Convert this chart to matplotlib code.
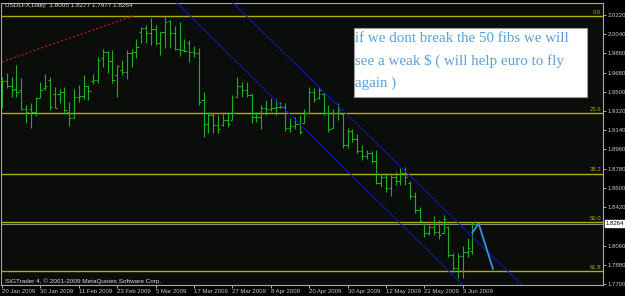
import matplotlib
matplotlib.use('Agg')
import matplotlib.pyplot as plt
from matplotlib.patches import Rectangle

# ---------------- data ----------------
opens = [1.9611, 1.9602, 1.9555, 1.9527, 1.9517, 1.9339, 1.9339, 1.9311, 1.9442, 1.9536,
         1.9611, 1.9480, 1.9480, 1.9498, 1.9311, 1.9255, 1.9452, 1.9461, 1.9555, 1.9598,
         1.9611, 1.9817, 1.9873, 1.9789, 1.9658, 1.9705, 1.9686, 1.9864, 1.9873, 2.0061,
         2.0098, 2.0051, 2.0089, 1.9958, 2.0061, 2.0164, 2.0051, 1.9901, 1.9892, 1.9958,
         1.9873, 1.9864, 1.9424, 1.9199, 1.9283, 1.9190, 1.9190, 1.9236, 1.9236, 1.9452,
         1.9550, 1.9517, 1.9470, 1.9260, 1.9264, 1.9349, 1.9340, 1.9349, 1.9358, 1.9358,
         1.9161, 1.9180, 1.9200, 1.9210, 1.9302, 1.9500, 1.9440, 1.9480, 1.9300, 1.9165,
         1.9300, 1.9290, 1.9000, 1.9130, 1.9060, 1.8950, 1.8900, 1.8930, 1.8850, 1.8650,
         1.8700, 1.8600, 1.8700, 1.8660, 1.8740, 1.8650, 1.8520, 1.8390, 1.8260, 1.8180,
         1.8230, 1.8190, 1.8180, 1.8230, 1.7970, 1.7850, 1.7960, 1.8000, 1.8005]
highs = [1.9639, 1.9677, 1.9639, 1.9752, 1.9630, 1.9377, 1.9395, 1.9452, 1.9592, 1.9667,
         1.9639, 1.9545, 1.9527, 1.9545, 1.9405, 1.9527, 1.9564, 1.9658, 1.9564, 1.9667,
         1.9826, 1.9901, 1.9883, 1.9892, 1.9752, 1.9798, 1.9892, 1.9901, 1.9995, 2.0108,
         2.0126, 2.0192, 2.0126, 2.0061, 2.0211, 2.0173, 2.0117, 2.0154, 1.9995, 1.9986,
         1.9930, 1.9911, 1.9498, 1.9311, 1.9302, 1.9283, 1.9311, 1.9311, 1.9470, 1.9639,
         1.9592, 1.9592, 1.9489, 1.9311, 1.9377, 1.9424, 1.9442, 1.9433, 1.9405, 1.9395,
         1.9255, 1.9264, 1.9283, 1.9339, 1.9545, 1.9536, 1.9545, 1.9489, 1.9377, 1.9339,
         1.9395, 1.9302, 1.9161, 1.9152, 1.9105, 1.9002, 1.8955, 1.8945, 1.8955, 1.8730,
         1.8739, 1.8739, 1.8749, 1.8786, 1.8796, 1.8664, 1.8561, 1.8421, 1.8271, 1.8252,
         1.8336, 1.8299, 1.8346, 1.8243, 1.7990, 1.7990, 1.8055, 1.8130, 1.8277]
lows = [1.9349, 1.9536, 1.9452, 1.9452, 1.9330, 1.9208, 1.9161, 1.9274, 1.9442, 1.9517,
        1.9330, 1.9349, 1.9395, 1.9292, 1.9180, 1.9255, 1.9405, 1.9433, 1.9424, 1.9573,
        1.9583, 1.9733, 1.9677, 1.9583, 1.9452, 1.9658, 1.9620, 1.9733, 1.9817, 1.9958,
        1.9958, 1.9939, 1.9939, 1.9845, 1.9911, 1.9911, 1.9892, 1.9836, 1.9873, 1.9780,
        1.9826, 1.9377, 1.9077, 1.9114, 1.9114, 1.9114, 1.9180, 1.9171, 1.9236, 1.9452,
        1.9452, 1.9452, 1.9208, 1.9217, 1.9152, 1.9283, 1.9320, 1.9283, 1.9349, 1.9133,
        1.9124, 1.9152, 1.9105, 1.9208, 1.9302, 1.9405, 1.9433, 1.9283, 1.9124, 1.9161,
        1.9236, 1.8975, 1.8975, 1.9030, 1.8927, 1.8861, 1.8870, 1.8833, 1.8636, 1.8608,
        1.8561, 1.8524, 1.8627, 1.8627, 1.8627, 1.8496, 1.8365, 1.8271, 1.8140, 1.8159,
        1.8159, 1.8121, 1.8177, 1.7952, 1.7812, 1.7756, 1.7756, 1.7950, 1.7977]
closes = [1.9602, 1.9555, 1.9517, 1.9498, 1.9339, 1.9311, 1.9311, 1.9442, 1.9517, 1.9555,
          1.9358, 1.9349, 1.9498, 1.9330, 1.9255, 1.9452, 1.9461, 1.9555, 1.9508, 1.9611,
          1.9798, 1.9873, 1.9789, 1.9611, 1.9742, 1.9686, 1.9864, 1.9873, 1.9920, 2.0098,
          2.0051, 2.0089, 1.9958, 2.0061, 2.0154, 2.0051, 1.9901, 1.9892, 1.9880, 1.9873,
          1.9864, 1.9405, 1.9199, 1.9283, 1.9190, 1.9150, 1.9236, 1.9200, 1.9302, 1.9550,
          1.9517, 1.9470, 1.9260, 1.9264, 1.9349, 1.9340, 1.9349, 1.9358, 1.9358, 1.9161,
          1.9180, 1.9200, 1.9120, 1.9300, 1.9500, 1.9430, 1.9520, 1.9300, 1.9150, 1.9300,
          1.9330, 1.9000, 1.9130, 1.9060, 1.8950, 1.8900, 1.8930, 1.8850, 1.8650, 1.8700,
          1.8600, 1.8700, 1.8660, 1.8740, 1.8700, 1.8520, 1.8390, 1.8290, 1.8180, 1.8230,
          1.8190, 1.8160, 1.8310, 1.7970, 1.7850, 1.7960, 1.8000, 1.8040, 1.8264]

date_labels = ['20 Jan 2009', '30 Jan 2009', '11 Feb 2009', '23 Feb 2009', '5 Mar 2009',
               '17 Mar 2009', '27 Mar 2009', '8 Apr 2009', '20 Apr 2009', '30 Apr 2009',
               '12 May 2009', '22 May 2009', '3 Jun 2009']
date_index = [0, 8, 16, 24, 32, 40, 48, 56, 64, 72, 80, 88, 96]

price_ticks = [2.0220, 2.0040, 1.9860, 1.9680, 1.9500, 1.9320, 1.9140, 1.8960,
               1.8780, 1.8600, 1.8420, 1.8060, 1.7880, 1.7700]

fib_labels = ['0.0', '23.6', '38.2', '50.0', '61.8']
fib_pcts = [0.0, 0.236, 0.382, 0.5, 0.618]
fib_high = 2.0211
fib_low = 1.6345

last_price = 1.8264
header = 'USDLFX,Daily  1.8005 1.8277 1.7977 1.8264'

red_trend_x = [0.0, 27.3]
red_trend_y = [1.9780, 2.0211]
chan_lower_x = [36.25, 96.0]
chan_lower_y = [2.0342, 1.7690]
chan_upper_x = [47.9, 108.3]
chan_upper_y = [2.0342, 1.7690]
proj_x = [98.0, 99.3, 102.3]
proj_y = [1.8180, 1.8265, 1.7840]

note_lines = ['if we dont break the 50 fibs we will',
              'see a weak $ ( will help euro to fly',
              'again )']

# ---------------- figure ----------------
W, H = 625, 296
fig = plt.figure(figsize=(W / 100, H / 100), dpi=100)
bg = '#0a0d0a'
fig.patch.set_facecolor('#000000')


def fx(px):
    return px / W


def fy(py):
    return 1 - py / H


ax_l, ax_r, ax_t, ax_b = 1, 603, 3, 285
ax = fig.add_axes([fx(ax_l), fy(ax_b), (ax_r - ax_l) / W, (ax_b - ax_t) / H])
ax.set_facecolor(bg)
ax.set_xlim(-0.2, (ax_r - ax_l) / 4.8 - 0.2)
ax.set_ylim(1.7690, 2.0332)

bar_col = '#1fae1f'
n = len(opens)
idx = list(range(n))
ax.vlines(idx, lows, highs, color=bar_col, lw=0.8, zorder=3)
ax.hlines(opens, [i - 0.45 for i in idx], idx, color=bar_col, lw=0.8, zorder=3)
ax.hlines(closes, idx, [i + 0.45 for i in idx], color=bar_col, lw=0.8, zorder=3)

# fib levels
fib_col = '#b2ad00'
for lab, p in zip(fib_labels, fib_pcts):
    lv = fib_high - p * (fib_high - fib_low)
    ax.axhline(lv, color=fib_col, lw=1.0, zorder=2)
    ax.text(0.997, lv + 0.0012, lab, transform=ax.get_yaxis_transform(),
            ha='right', va='bottom', fontsize=4.3, color=fib_col,
            family='Liberation Sans')

# bid line
ax.axhline(last_price, color='#8a8a8a', lw=0.8, zorder=2)

# trend lines
ax.plot(red_trend_x, red_trend_y, color='#a01818', lw=1.0, dashes=(1.5, 1.5), zorder=4)
ax.plot(chan_lower_x, chan_lower_y, color='#1414c8', lw=0.7, zorder=4)
ax.plot(chan_upper_x, chan_upper_y, color='#1414c8', lw=0.7, zorder=4)
ax.plot(proj_x, proj_y, color='#3d8ee0', lw=1.3, zorder=5)

# axes styling
for s in ax.spines.values():
    s.set_color('#a8a8a8')
    s.set_linewidth(0.8)
ax.yaxis.tick_right()
ax.set_yticks(price_ticks)
ax.set_yticklabels(['%.4f' % v for v in price_ticks])
ax.tick_params(axis='y', colors='#c8c8c8', labelsize=4.3, length=2, width=0.6, pad=1.5)
ax.set_xticks(date_index)
ax.set_xticklabels(date_labels)
ax.tick_params(axis='x', colors='#c8c8c8', labelsize=4.3, length=2, width=0.6, pad=1)
for t in ax.get_xticklabels() + ax.get_yticklabels():
    t.set_family('Liberation Sans')
for t in ax.get_xticklabels():
    t.set_ha('left')

# last price box
ax.text(1.004, last_price, '%.4f' % last_price, transform=ax.get_yaxis_transform(),
        ha='left', va='center', fontsize=4.3, color='black', family='Liberation Sans',
        bbox=dict(boxstyle='square,pad=0.15', fc='white', ec='white'), zorder=10,
        clip_on=False)

# header & copyright
fig.text(fx(5), fy(6), header, fontsize=4.6, color='#d8d8d8', va='center', ha='left',
         family='Liberation Sans')
fig.text(fx(5), fy(281), 'SIGTrader 4, \u00a9 2001-2009 MetaQuotes Software Corp.',
         fontsize=4.6, color='#d8d8d8', va='center', ha='left', family='Liberation Sans')

# note box
bx0, by0, bx1, by1 = 354, 28, 587, 97
fig.add_artist(Rectangle((fx(bx0), fy(by1)), (bx1 - bx0) / W, (by1 - by0) / H,
                         transform=fig.transFigure, facecolor='white',
                         edgecolor='#9a9a9a', lw=0.8, zorder=20))
for k, line in enumerate(note_lines):
    fig.text(fx(355), fy(42 + 22.5 * k), line, fontsize=10.8, color='#5a9fe0',
             family='Liberation Serif', ha='left', va='baseline', zorder=21)

fig.savefig('out.png', dpi=100, facecolor=fig.get_facecolor())
